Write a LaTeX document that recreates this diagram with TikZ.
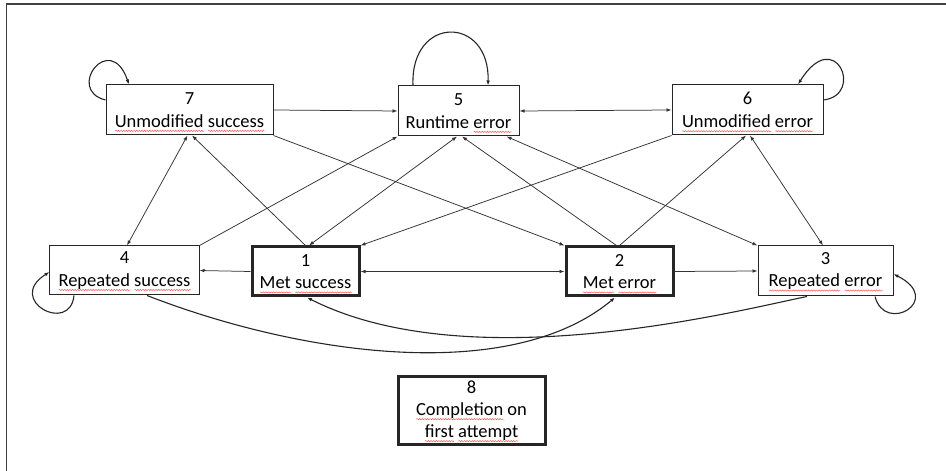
\documentclass[tikz,border=0pt]{standalone}
\usepackage{fontspec}
\setmainfont{Carlito}
\usetikzlibrary{arrows.meta,decorations.pathmorphing}
\newlength\sqwidth
\newcommand\sq[1]{\settowidth\sqwidth{#1}\leavevmode\rlap{\smash{\tikz[baseline=0pt]\draw[red!65!white,line width=0.5bp,decorate,decoration={snake,amplitude=0.6bp,segment length=2.6bp}] (0bp,-3.8bp) -- (\sqwidth,-3.8bp);}}#1}
\tikzset{
  box/.style={draw=black!85, line width=1bp, align=center, inner sep=0pt,
    text=black, font=\fontsize{18.5bp}{22.5bp}\selectfont},
  strongbox/.style={box, line width=3bp},
  conn/.style={draw=black!80, line width=0.75bp},
  curv/.style={draw=black!85, line width=1.1bp},
  arr/.style={-{Latex[length=5bp,width=3.6bp]}},
  darr/.style={{Latex[length=5bp,width=3.6bp]}-{Latex[length=5bp,width=3.6bp]}}
}
\begin{document}
\begin{tikzpicture}[x=1bp,y=-1bp]
\fill[white] (0,0) rectangle (946,471);
\useasboundingbox (0,0) rectangle (946,471);
% outer frame
\coordinate (fbl) at (6.5,471);
\coordinate (ftl) at (6.5,4);
\coordinate (ftr) at (946,4);
\draw[draw=black!75, line width=1.5bp] (fbl) -- (ftl) -- (ftr);

% nodes
\node[box, minimum width=167bp, minimum height=50bp] (n7) at (189.5,110) {7\\\sq{Unmodified} \sq{success}};
\node[box, minimum width=121bp, minimum height=50bp] (n5) at (458.5,111) {5\\Runtime \sq{error}};
\node[box, minimum width=151bp, minimum height=50bp] (n6) at (747.5,110) {6\\\sq{Unmodified} \sq{error}};
\node[box, minimum width=149bp, minimum height=49bp] (n4) at (124.5,270.5) {4\\\sq{Repeated} \sq{success}};
\node[strongbox, minimum width=107bp, minimum height=49bp] (n1) at (305.5,271.5) {1\\\sq{Met} \sq{success}};
\node[strongbox, minimum width=107bp, minimum height=49bp] (n2) at (619.5,271.5) {2\\\sq{Met} \sq{error}};
\node[box, minimum width=135bp, minimum height=50bp] (n3) at (825.5,271) {3\\\sq{Repeated} \sq{error}};
\node[strongbox, minimum width=147bp, minimum height=68bp, font=\fontsize{18.5bp}{22bp}\selectfont] (n8) at (471.5,410.5) {8\\\sq{Completion} on\\\sq{first} \sq{attempt}};

% horizontal connectors
\draw[conn, arr] (n7.east) -- (n5.west);
\draw[conn, darr] (n5.east) -- (n6.west);
\draw[conn, arr] (n1.west) -- (n4.east);
\draw[conn, darr] (n1.east) -- (n2.west);
\draw[conn, arr] (n2.east) -- (n3.west);

% diagonal connectors
\draw[conn, darr] ([xshift=2.5bp]n4.north) -- ([xshift=-2bp]n7.south);
\draw[conn, arr] (n1.north) -- ([xshift=2.5bp]n7.south);
\draw[conn, arr] (n4.north east) -- (n5.south west);
\draw[conn, darr] ([xshift=3.5bp]n1.north) -- ([xshift=-1.5bp]n5.south);
\draw[conn, arr] ([xshift=-3bp]n2.north) -- ([xshift=3.5bp]n5.south);
\draw[conn, darr] ([xshift=-13bp]n5.south east) -- (n3.north west);
\draw[conn, arr] (n6.south west) -- (n1.north east);
\draw[conn, arr] (n2.north) -- ([xshift=-1.5bp]n6.south);
\draw[conn, darr] ([xshift=2.5bp]n6.south) -- ([xshift=-2.5bp]n3.north);
\draw[conn, arr] (n7.south east) -- (n2.north west);

% long bottom curves
\draw[curv, arr] ([xshift=22.5bp]n4.south) .. controls (300,355) and (510,385) .. ([xshift=-4.5bp]n2.south);
\draw[curv, arr] ([xshift=-18.5bp]n3.south) .. controls (740,310) and (470,380) .. ([xshift=1.5bp]n1.south);

% self loops
\draw[curv, arr] ([yshift=10bp]n7.west) .. controls (65,90) and (110,30) .. ([xshift=-60.5bp]n7.north);
\draw[curv, arr] ([xshift=-45.5bp]n5.north) .. controls (410,15) and (490,15) .. ([xshift=29.5bp]n5.north);
\draw[curv, arr] ([yshift=10bp]n6.east) .. controls (865,95) and (835,25) .. ([xshift=50.5bp]n6.north);
\draw[curv, arr] ([xshift=-50.5bp]n4.south) .. controls (70,335) and (5,300) .. ([yshift=-1.5bp]n4.west);
\draw[curv, arr] ([xshift=49.5bp]n3.south) .. controls (885,335) and (945,300) .. ([yshift=-3bp]n3.east);
\end{tikzpicture}
\end{document}
